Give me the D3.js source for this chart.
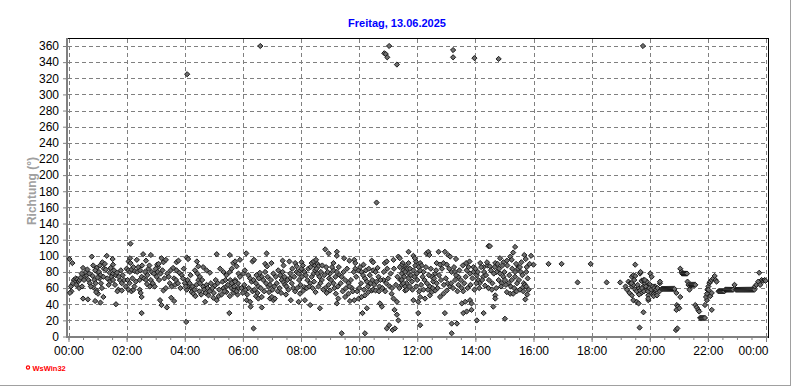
<!DOCTYPE html>
<html><head><meta charset="utf-8">
<script src="https://cdn.jsdelivr.net/npm/d3@7"></script>
<style>
html,body{margin:0;padding:0;background:#fff;}
svg{display:block;font-family:"Liberation Sans",Arial,sans-serif;}
</style></head>
<body><svg id="c" width="792" height="387"></svg>
<script>
const title = "Freitag, 13.06.2025";
const yLabel = "Richtung  (°)";
const yTicks = [0,20,40,60,80,100,120,140,160,180,200,220,240,260,280,300,320,340,360];
const xTicksMajor = [0,120,240,360,480,600,720,840,960,1080,1200,1320,1440];
const xTickLabels = ["00:00","02:00","04:00","06:00","08:00","10:00","12:00","14:00","16:00","18:00","20:00","22:00","00:00"];

// [minute of day, direction in degrees]
const obs00_06 = [
[2,96],[8,91],[6,56],[3,54],[11,70],[15,72],[18,71],[20,68],[23,70],[13,67],[25,73],
[27,78],[34,74],[37,76],[36,80],[41,70],[44,66],[48,99],[51,88],[58,85],[55,82],[61,79],[63,80],[66,76],[72,74],[64,72],
[70,92],[75,90],[73,84],[51,61],[58,57],[61,53],[57,55],[79,100],[91,96],[92,89],[85,79],[89,74],[86,68],[92,78],[92,70],[98,76],
[106,70],[110,66],[103,58],[101,56],[110,57],[72,49],[128,115],[127,97],[124,93],[128,91],[141,95],[154,102],[160,94],[170,101],
[120,84],[124,82],[127,80],[130,83],[134,86],[137,81],[142,80],[124,58],[130,56],[134,58],
[147,70],[151,74],[156,72],[160,70],[162,65],[168,62],[165,84],[172,80],[176,78],[182,74],[187,70],[189,45],[147,58],[149,54],[151,49],[151,29],
[185,86],[183,89],[186,90],[196,92],[192,97],[201,95],[192,39],[203,36],[196,57],[201,60],[209,66],[213,62],[220,64],
[223,92],[227,94],[223,82],[229,79],[234,76],[240,66],[247,62],[254,60],[244,58],[254,55],[258,53],[243,18],[244,98],[247,96],
[265,93],[268,87],[268,70],[271,66],[278,62],[285,64],[261,82],[266,78],[271,74],[278,86],[285,82],[292,79],[289,51],[299,48],[306,45],[282,43],
[302,63],[311,58],[320,60],[326,62],[306,102],[313,84],[320,80],[326,76],[333,80],[337,84],
[326,55],[333,50],[340,54],[332,29],[333,101],[344,70],[350,66],[347,58],[340,91],[347,87],[344,93],[354,95],
[5,62],[9,66],[16,64],[22,60],[28,62],[30,85],[32,70],[39,83],[43,78],[46,62],[50,75],[53,70],[56,66],[60,73],[65,88],[67,66],[69,60],
[77,83],[80,72],[83,64],[87,85],[94,82],[96,64],[100,79],[104,74],[108,82],[112,76],[115,70],[118,62],[30,47],[40,46],[55,44],[66,42],[98,40],
[122,70],[126,66],[132,72],[136,62],[139,68],[144,86],[148,82],[152,88],[158,80],[163,76],[167,88],[170,70],[174,66],[178,62],[180,84],
[184,80],[190,78],[194,82],[198,72],[204,78],[207,74],[211,82],[216,85],[218,72],[222,70],[226,66],[231,60],[236,72],[238,84],[212,48],[218,44],
[242,62],[246,70],[250,66],[252,76],[256,62],[260,58],[262,50],[264,64],[270,56],[274,52],[276,70],[280,58],[283,54],[287,60],[291,56],
[294,66],[297,60],[300,54],[304,70],[308,66],[310,50],[316,52],[318,68],[322,56],[324,70],[329,64],[336,60],[338,66],[342,58],[349,52],[352,60]
];
const obs06_12 = [
[367,103],[409,103],[380,93],[383,95],[406,90],[410,87],[419,91],[442,94],[444,88],[456,93],
[468,91],[471,87],[481,92],[502,91],[506,93],[509,88],[511,95],[514,90],[516,87],
[530,108],[537,103],[554,105],[554,100],[547,91],[569,97],[580,94],[590,95],[592,91],
[609,89],[626,94],[629,92],[653,91],[657,93],[671,95],[681,99],[684,97],[690,91],[695,87],[702,105],
[334,70],[337,66],[342,62],[344,68],[347,56],[351,78],[354,74],[361,78],[364,82],[371,76],[375,72],[378,68],[382,70],[387,66],[392,62],
[388,76],[395,79],[399,74],[368,45],[375,43],[387,50],[392,47],[399,49],[376,37],[399,36],
[402,70],[408,66],[413,62],[416,64],[416,47],[420,49],[423,45],[426,47],[423,78],[428,74],[433,82],[437,76],[440,70],[444,67],[447,64],[450,62],
[457,72],[461,66],[464,60],[459,45],[471,80],[475,78],[478,82],[481,84],[478,53],[485,57],[488,61],[475,43],[488,45],[499,39],
[493,70],[499,66],[502,74],[506,78],[509,82],[514,78],[518,74],[523,70],[519,35],[520,66],[530,60],[537,64],[540,57],[533,54],[547,66],[552,53],[557,47],
[540,78],[547,82],[554,80],[560,76],[564,74],[571,70],[578,66],[554,41],[571,49],[578,53],[585,60],[581,44],[590,45],[599,47],[605,49],
[592,84],[599,82],[605,80],[612,72],[616,68],[612,51],[619,55],[626,57],[607,29],[616,35],[622,76],[629,82],[634,80],[640,74],[629,58],[634,57],[642,62],
[643,41],[647,37],[650,70],[656,66],[660,72],[667,53],[671,47],[678,43],[673,33],[678,27],[657,10],[662,14],[669,8],[674,10],[681,20],
[685,70],[688,64],[695,57],[691,80],[696,84],[702,78],[702,91],[382,10],[564,4],[612,4],
[357,60],[360,54],[363,64],[366,58],[369,52],[372,60],[380,56],[384,58],[390,54],[393,72],[397,60],[404,56],[406,80],[411,74],[414,55],
[418,70],[421,58],[425,62],[430,66],[432,56],[436,60],[439,54],[442,80],[446,74],[449,52],[452,70],[454,58],[458,78],[462,84],[466,74],
[468,56],[472,60],[476,70],[479,64],[482,74],[484,88],[487,80],[490,76],[492,60],[495,84],[497,62],[500,86],[504,60],[507,68],[510,55],
[512,84],[516,62],[521,80],[524,88],[526,58],[528,76],[532,86],[535,80],[538,72],[542,70],[544,86],[549,60],[551,74],[556,62],[558,86],
[562,66],[566,56],[568,80],[573,60],[575,84],[580,62],[583,70],[587,56],[589,80],[594,74],[596,56],[600,60],
[602,86],[604,66],[608,76],[610,58],[614,82],[618,62],[620,84],[624,66],[627,70],[631,64],[636,68],[638,85],[641,56],[644,70],[648,60],
[651,80],[654,56],[658,84],[663,62],[665,78],[668,60],[672,84],[676,64],[679,74],[683,60],[687,88],[693,74],[698,66],[700,84]
];
const obs12_16 = [
[712,100],[717,93],[715,97],[739,103],[743,105],[745,101],[764,105],[777,105],[784,101],[788,99],[800,96],
[867,112],[870,112],[922,111],[918,104],[941,101],[960,89],[891,97],[898,92],[905,94],[912,99],[915,95],
[726,91],[729,88],[760,91],[767,89],[774,91],[781,89],[821,91],[828,93],[836,86],[850,91],[857,86],[865,88],[870,87],[881,91],[929,86],[934,80],
[684,86],[691,82],[688,78],[695,80],[705,84],[712,82],[719,78],[726,82],[733,80],[688,70],[691,66],[695,62],[698,58],[702,72],[709,68],
[718,62],[724,56],[733,58],[712,45],[722,43],[726,49],[722,29],[726,14],[736,47],[746,51],[750,55],[757,57],[740,66],[746,62],[753,68],[760,66],
[750,74],[757,78],[777,29],[767,49],[774,53],[781,57],[788,62],[791,80],[798,80],[805,74],[791,16],[802,16],[791,4],
[798,70],[805,64],[812,60],[815,56],[812,41],[819,43],[829,45],[832,41],[815,29],[822,31],[832,33],[843,20],[822,82],[829,78],[836,80],[843,76],
[846,70],[849,66],[856,74],[860,63],[867,60],[874,58],[881,51],[857,29],[877,37],[881,47],
[884,80],[891,78],[898,74],[888,70],[894,66],[901,70],[905,55],[912,53],[918,53],[925,56],[932,58],[938,61],
[908,66],[915,70],[922,74],[922,80],[928,84],[932,86],[940,66],[942,64],[945,62],[943,46],[901,22],
[948,72],[950,58],[947,52],[945,80],[952,90],[955,100],
[704,62],[707,76],[710,58],[714,74],[716,88],[720,70],[723,86],[728,64],[731,74],[735,70],[738,86],[742,58],[744,76],[748,84],[752,60],
[755,72],[759,82],[762,60],[765,76],[769,70],[771,84],[775,64],[779,72],[783,66],[786,84],[790,66],[794,60],[796,86],[800,76],[803,56],
[807,82],[810,70],[814,88],[817,66],[820,74],[824,60],[826,86],[830,64],[834,72],[838,58],
[840,84],[842,66],[845,80],[848,60],[852,86],[854,70],[858,80],[862,76],[864,92],[868,70],[872,82],[875,66],[878,78],[880,86],[883,60],
[886,90],[889,84],[893,62],[896,88],[900,80],[903,64],[906,88],[910,76],[913,62],[916,84],[920,60],[924,90],[926,66],[930,70],[935,92],
[937,76],[939,56],[944,96],[946,86]
];
const obs16_20 = [[991,90],[1018,90],[1051,67],[1078,90],[1111,67],[1139,67],[1170,89]];
const obs20_24 = [
[1163,74],[1166,76],[1170,75],[1180,78],[1181,80],[1156,68],[1160,66],[1163,62],[1166,64],[1158,54],[1163,51],
[1166,45],[1173,43],[1177,41],[1187,30],[1179,11],[1170,58],[1173,56],[1177,60],[1180,57],[1183,54],[1187,62],[1190,66],[1194,68],
[1194,58],[1197,62],[1201,64],[1204,60],[1208,53],[1211,57],[1201,55],[1197,51],[1183,69],[1187,70],[1190,70],[1197,45],[1197,47],
[1211,62],[1218,58],[1220,56],[1208,50],[1215,51],[1201,78],[1204,74],[1221,66],[1221,68],
[1150,62],[1153,58],[1162,66],[1168,70],[1175,64],[1178,52],[1184,60],[1188,56],[1192,62],[1196,56],[1199,60],[1203,58],[1206,62],[1209,60],[1213,58],[1216,60],
[1225,59],[1227,59],[1229,59],[1231,59],[1233,59],[1235,59],[1237,59],[1239,59],[1241,59],[1243,59],[1245,59],[1247,59],[1249,59],[1251,59],
[1255,54],[1263,49],[1256,39],[1258,37],[1255,33],[1261,35],[1254,8],[1257,10],[1263,84],[1266,80],
[1267,78],[1269,78],[1271,78],[1273,78],[1275,78],[1277,78],
[1278,68],[1280,64],[1283,62],[1282,58],[1284,64],[1286,64],[1288,64],[1290,64],[1292,64],[1294,64],
[1294,39],[1297,36],[1300,33],[1302,31],[1304,23],[1306,23],[1308,23],[1310,23],[1312,23],[1314,23],
[1314,39],[1318,45],[1316,49],[1318,53],[1319,58],[1321,62],[1323,66],[1325,50],[1328,54],[1328,33],[1321,58],[1325,68],[1328,70],[1331,72],[1334,75],[1336,70],[1338,68],
[1342,56],[1344,56],[1346,56],[1348,56],[1350,56],[1352,56],[1354,56],[1356,58],[1358,58],[1360,58],[1362,58],[1364,58],[1366,58],[1368,58],[1370,58],[1372,58],
[1375,64],[1378,58],[1380,58],[1382,58],[1384,58],[1386,58],[1388,58],[1390,58],[1392,58],[1394,58],[1396,58],[1398,58],[1400,58],[1402,58],[1404,58],[1406,58],[1408,58],[1410,58],[1412,58],[1414,58],[1416,58],
[1417,62],[1420,64],[1424,68],[1426,79],[1428,64],[1431,70],[1434,69],[1437,70],[1439,69]
];
const outliers = [[245,325],[396,360],[662,360],[652,351],[655,350],[658,346],[678,337],[636,166],[794,355],[794,346],[838,345],[888,344],[1186,360]];

const svg = d3.select("#c");
const x = d3.scaleLinear().domain([0,1440]).range([68.5,766]);
const y = d3.scaleLinear().domain([0,360]).range([336.5,46]);
const fmt = d => xTickLabels[xTicksMajor.indexOf(d)];

// outer frame (right & bottom)
svg.append("line").attr("x1",790.5).attr("x2",790.5).attr("y1",0).attr("y2",386).attr("stroke","#a0a0a0");
svg.append("line").attr("x1",0).attr("x2",791).attr("y1",385.5).attr("y2",385.5).attr("stroke","#a0a0a0");

// grid
const g = svg.append("g");
g.selectAll("line.h").data(yTicks.filter(d=>d>0)).join("line")
  .attr("x1",68).attr("x2",767).attr("y1",d=>Math.round(y(d))+0.5).attr("y2",d=>Math.round(y(d))+0.5)
  .attr("stroke","#808080").attr("stroke-dasharray","4,3");
g.selectAll("line.v").data(xTicksMajor).join("line")
  .attr("x1",d=>Math.round(x(d))+0.5).attr("x2",d=>Math.round(x(d))+0.5).attr("y1",39).attr("y2",336)
  .attr("stroke","#808080").attr("stroke-dasharray","4,3");

// top & right black frame
svg.append("line").attr("x1",67).attr("x2",768.5).attr("y1",38.5).attr("y2",38.5).attr("stroke","#000");
svg.append("line").attr("x1",768.5).attr("x2",768.5).attr("y1",38).attr("y2",338).attr("stroke","#000");

// y axis
const ya = svg.append("g").attr("transform","translate(67,0)")
  .call(d3.axisLeft(y).tickValues(yTicks).tickSize(4).tickPadding(4));
ya.select(".domain").remove();
ya.selectAll(".tick line").attr("stroke","#808080");
ya.selectAll(".tick text").attr("fill","#000").style("font-size","12px").style("font-family","'Liberation Sans',Arial,sans-serif");

// x axis (minor + major)
const minor = d3.range(0,1441,30);
const xm = svg.append("g").attr("transform","translate(0,337)")
  .call(d3.axisBottom(x).tickValues(minor).tickSize(3).tickFormat(""));
xm.select(".domain").remove();
xm.selectAll(".tick line").attr("stroke","#808080");
const xa = svg.append("g").attr("transform","translate(0,337)")
  .call(d3.axisBottom(x).tickValues(xTicksMajor).tickSize(5).tickPadding(4).tickFormat(fmt));
xa.select(".domain").remove();
xa.selectAll(".tick line").attr("stroke","#808080");
xa.selectAll(".tick text").attr("fill","#000").style("font-size","12px").style("font-family","'Liberation Sans',Arial,sans-serif");
xa.selectAll(".tick text").filter(d=>d===1440).attr("text-anchor","end").attr("dx","2");

// axis lines (gray)
svg.append("line").attr("x1",67).attr("x2",67).attr("y1",38).attr("y2",338).attr("stroke","#808080").attr("stroke-width",2);
svg.append("line").attr("x1",66).attr("x2",768).attr("y1",337).attr("y2",337).attr("stroke","#808080").attr("stroke-width",2);

// points
const all = [].concat(obs00_06, obs06_12, obs12_16, obs16_20, obs20_24, outliers);
svg.append("g").selectAll("path").data(all).join("path")
  .attr("d", d => `M${x(d[0])},${y(d[1])-2.6}l2.6,2.6l-2.6,2.6l-2.6,-2.6z`)
  .attr("fill","#6e6e6e").attr("stroke","#1a1a1a").attr("stroke-width",1);

// title
svg.append("text").attr("x",397).attr("y",27).attr("text-anchor","middle")
  .attr("fill","#0000ff").style("font-weight","bold").style("font-size","11px").text(title);
// y label
svg.append("text").attr("transform","translate(36,191) rotate(-90)").attr("text-anchor","middle")
  .attr("fill","#a0a0a0").style("font-weight","bold").style("font-size","12px").text(yLabel);
// logo
svg.append("circle").attr("cx",28).attr("cy",367.5).attr("r",1.6).attr("fill","none").attr("stroke","#ff0000").attr("stroke-width",1.2);
svg.append("text").attr("x",32.5).attr("y",370.5).attr("fill","#ff0000").style("font-weight","bold").style("font-size","7.5px").text("WsWin32");
</script></body></html>
